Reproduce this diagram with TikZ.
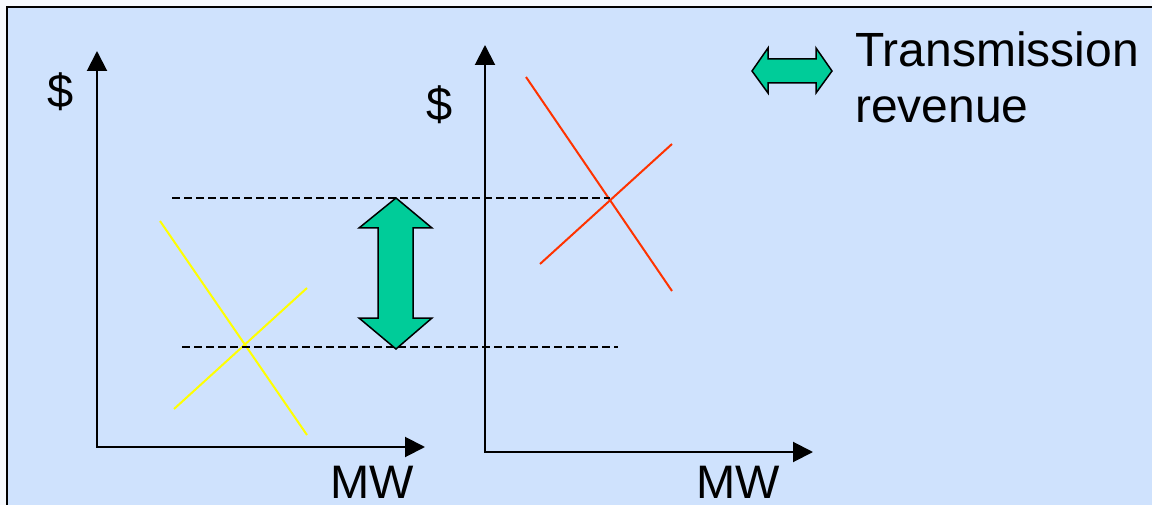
\documentclass[tikz,border=0pt]{standalone}
\usepackage{fontspec}
\setmainfont{Liberation Sans}
\usetikzlibrary{arrows.meta}

\definecolor{pagebg}{RGB}{246,249,254}
\definecolor{slidebg}{RGB}{207,226,253}
\definecolor{revgreen}{RGB}{0,204,153}
\definecolor{supplyred}{RGB}{255,51,0}
\definecolor{marketyellow}{RGB}{255,255,0}

\begin{document}
\begin{tikzpicture}[
    x=1pt, y=-1pt,
    axis/.style={line width=2pt, {Triangle[length=20pt, width=20pt]}-{Triangle[length=20pt, width=20pt]}},
    guide/.style={line width=1.7pt, dash pattern=on 8pt off 4pt}, % dashed price levels
    curve/.style={line width=2pt},
    revarrow/.style={draw=black, line width=1.5pt, fill=revgreen, line join=miter},
    lbl/.style={inner sep=0pt, anchor=base, font=\fontsize{47}{56}\selectfont}
]

    % --- SLIDE BACKGROUND ---
    \useasboundingbox (0,0) rectangle (1152,505);
    \fill[pagebg] (0,0) rectangle (1152,505);
    \fill[slidebg] (7,7) rectangle (1170,520);
    \draw[line width=2pt] (7,520) -- (7,7) -- (1170,7);

    % --- LEFT MARKET (cheap side) ---

    % Define coordinates
    \coordinate (L0) at (97,447);    % origin
    \coordinate (Ly) at (97,51);     % price axis tip
    \coordinate (Lx) at (425,447);   % quantity axis tip
    \coordinate (Ld1) at (160,221);  % demand, top
    \coordinate (Ld2) at (307,435);  % demand, bottom
    \coordinate (Ls1) at (174,409);  % supply, bottom
    \coordinate (Ls2) at (307,288);  % supply, top

    \draw[axis] (Ly) -- (L0) -- (Lx);
    \draw[curve, marketyellow] (Ld1) -- (Ld2);
    \draw[curve, marketyellow] (Ls1) -- (Ls2);

    \node[lbl] (Lprice) at (61,108) {\$};
    \node[lbl] (Lqty) at (372,498) {MW};

    % --- RIGHT MARKET (expensive side) ---

    \coordinate (R0) at (485,452);
    \coordinate (Ry) at (485,45);
    \coordinate (Rx) at (813,452);
    \coordinate (Rd1) at (526,77);
    \coordinate (Rd2) at (672,291);
    \coordinate (Rs1) at (540,264);
    \coordinate (Rs2) at (672,144);

    \draw[axis] (Ry) -- (R0) -- (Rx);
    \draw[curve, supplyred] (Rd1) -- (Rd2);
    \draw[curve, supplyred] (Rs1) -- (Rs2);

    \node[lbl] (Rprice) at (440,121) {\$};
    \node[lbl] (Rqty) at (738,498) {MW};

    % --- PRICE LEVELS ---
    \coordinate (Hi0) at (172,198);
    \coordinate (Hi1) at (610,198);
    \coordinate (Lo0) at (182,347);
    \coordinate (Lo1) at (618,347);

    \draw[guide] (Hi0) -- (Hi1);
    \draw[guide] (Lo0) -- (Lo1);

    % --- PRICE DIFFERENCE ARROW ---
    \coordinate (Atop) at (396,198);
    \draw[revarrow] (Atop) -- ++(36,30) -- ++(-19,0) -- ++(0,90) -- ++(19,0)
        -- ++(-36,31) -- ++(-37,-31) -- ++(19,0) -- ++(0,-90) -- ++(-19,0) -- cycle;

    % --- LEGEND ---
    \coordinate (Kl) at (752,71);
    \draw[revarrow] (Kl) -- ++(16,-23) -- ++(0,11) -- ++(48,0) -- ++(0,-11)
        -- ++(16,23) -- ++(-16,22) -- ++(0,-10) -- ++(-48,0) -- ++(0,10) -- cycle;

    \node[lbl, anchor=base west, font=\fontsize{48}{56}\selectfont] (Ktext) at (855,67) {Transmission};
    \node[lbl, anchor=base west, font=\fontsize{48}{56}\selectfont] (Ktext2) at (855,123) {revenue};

\end{tikzpicture}
\end{document}
